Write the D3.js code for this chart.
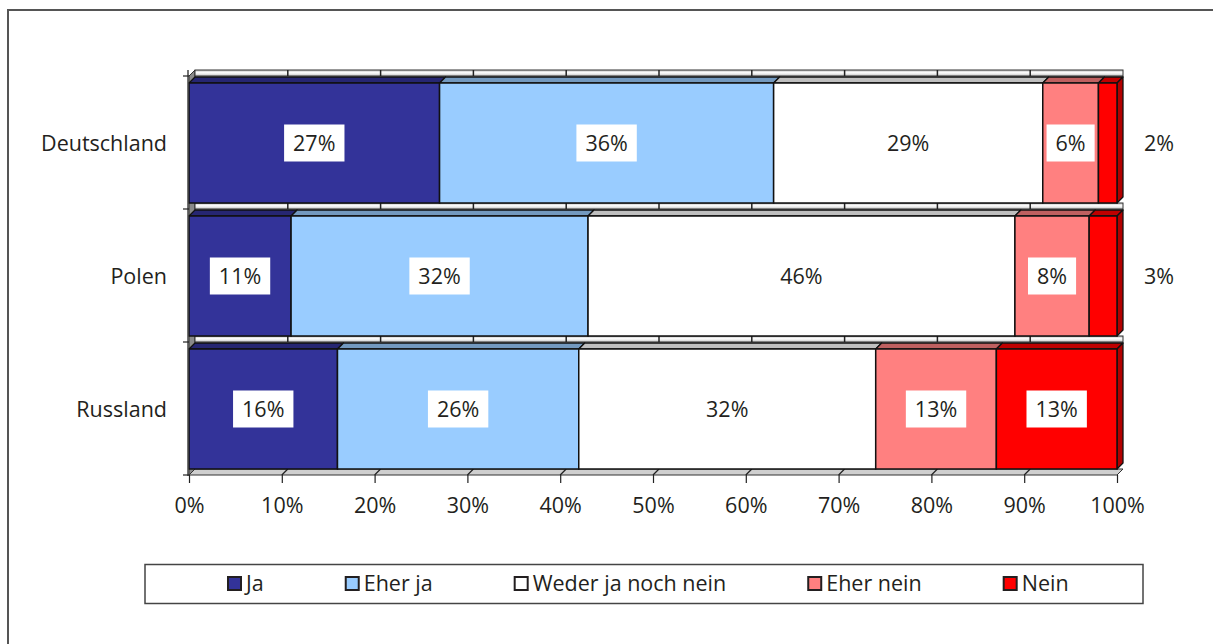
<!DOCTYPE html>
<html>
<head>
<meta charset="utf-8">
<script src="https://cdn.jsdelivr.net/npm/d3@7"></script>
<style>
  html, body { margin: 0; padding: 0; background: #fff; }
  svg { display: block; font-family: "Open Sans", "Noto Sans", sans-serif; }
</style>
</head>
<body>
<svg id="chart" width="1213" height="644"></svg>
<script>
// Survey answers per country, in percent
const categories = ["Deutschland", "Polen", "Russland"];
const seriesNames = ["Ja", "Eher ja", "Weder ja noch nein", "Eher nein", "Nein"];
const ja       = [27, 11, 16];
const eherJa   = [36, 32, 26];
const weder    = [29, 46, 32];
const eherNein = [6, 8, 13];
const nein     = [2, 3, 13];
const tickValues = [0, 10, 20, 30, 40, 50, 60, 70, 80, 90, 100];

const seriesValues = [ja, eherJa, weder, eherNein, nein];
const frontColors = ["#333399", "#99ccff", "#ffffff", "#ff8080", "#ff0000"];
const topColors   = ["#262672", "#7399bf", "#bfbfbf", "#bf6060", "#bf0000"];
const sideColor   = "#b30000";
const ink = "#231f20";
const fontSize = 21.5;

const svg = d3.select("#chart");
const DX = 6, DY = 6;          // oblique depth of the 3D bars

const x = d3.scaleLinear().domain([0, 100]).range([189, 1117]);
const y = d3.scaleBand().domain(categories).range([83, 469]).paddingInner(13 / 133);

// outer frame
svg.append("rect")
  .attr("x", 8).attr("y", 10).attr("width", 1230).attr("height", 660)
  .attr("fill", "none").attr("stroke", "#555").attr("stroke-width", 2);

// stacked segments
const rows = categories.map((c, i) => {
  let acc = 0;
  return seriesValues.map((vals, s) => {
    const seg = { cat: c, s, v: vals[i], x0: acc, x1: acc + vals[i] };
    acc += vals[i];
    return seg;
  });
});

const defs = svg.append("defs");
const grad = defs.append("linearGradient").attr("id", "wallGrad")
  .attr("x1", 0).attr("y1", 0).attr("x2", 0).attr("y2", 1);
grad.append("stop").attr("offset", "0%").attr("stop-color", "#bdbdbd");
grad.append("stop").attr("offset", "45%").attr("stop-color", "#ffffff");
grad.append("stop").attr("offset", "100%").attr("stop-color", "#c4c4c4");

const plot = svg.append("g");

// left wall
const yTopFront = y(categories[0]) - 7;
const yBotFront = y(categories[categories.length - 1]) + y.bandwidth() + 6;
plot.append("polygon")
  .attr("points", [[x(0), yTopFront], [x(0) + DX, yTopFront - DY],
                   [x(0) + DX, yBotFront - DY], [x(0), yBotFront]].join(" "))
  .attr("fill", "#8a8a8a").attr("stroke", "#333").attr("stroke-width", 1);

// back-wall strips visible above each bar, with gridlines
categories.forEach(c => {
  const sTop = y(c) - 13, sBot = y(c) - 7;
  plot.append("rect")
    .attr("x", x(0) + DX).attr("y", sTop)
    .attr("width", x(100) - x(0)).attr("height", sBot - sTop)
    .attr("fill", "url(#wallGrad)").attr("stroke", "#333").attr("stroke-width", 1);
  plot.selectAll(null).data(tickValues.slice(1, -1)).enter().append("line")
    .attr("x1", d => x(d) + DX).attr("x2", d => x(d) + DX)
    .attr("y1", sTop).attr("y2", sBot)
    .attr("stroke", "#222").attr("stroke-width", 1.5);
});

// floor edge below the last bar
const fTop = y(categories[categories.length - 1]) + y.bandwidth();
const fBot = fTop + 6;
plot.append("polygon")
  .attr("points", [[x(0), fBot], [x(100), fBot], [x(100) + DX, fTop], [x(0) + DX, fTop]].join(" "))
  .attr("fill", "#cfcfcf").attr("stroke", "#333").attr("stroke-width", 1);
plot.selectAll(null).data(tickValues.slice(1, -1)).enter().append("line")
  .attr("x1", d => x(d)).attr("x2", d => x(d) + DX)
  .attr("y1", fBot).attr("y2", fTop)
  .attr("stroke", "#222").attr("stroke-width", 1.2);

// bars
rows.forEach(segs => {
  const g = plot.append("g");
  const top = y(segs[0].cat), bot = top + y.bandwidth();
  segs.forEach(d => {
    g.append("polygon")
      .attr("points", [[x(d.x0), top], [x(d.x1), top], [x(d.x1) + DX, top - DY], [x(d.x0) + DX, top - DY]].join(" "))
      .attr("fill", topColors[d.s]).attr("stroke", "#111").attr("stroke-width", 1.3)
      .attr("stroke-linejoin", "round");
  });
  const last = segs[segs.length - 1];
  g.append("polygon")
    .attr("points", [[x(last.x1), top], [x(last.x1) + DX, top - DY], [x(last.x1) + DX, bot - DY], [x(last.x1), bot]].join(" "))
    .attr("fill", sideColor).attr("stroke", "#111").attr("stroke-width", 1.3)
    .attr("stroke-linejoin", "round");
  segs.forEach(d => {
    g.append("rect")
      .attr("x", x(d.x0)).attr("y", top)
      .attr("width", x(d.x1) - x(d.x0)).attr("height", bot - top)
      .attr("fill", frontColors[d.s]).attr("stroke", "#111").attr("stroke-width", 1.5);
  });
});

// value labels
rows.forEach(segs => {
  const cy = y(segs[0].cat) + y.bandwidth() / 2;
  segs.forEach(d => {
    const outside = d.v < 5;
    const cx = outside ? x(100) + 42 : x((d.x0 + d.x1) / 2);
    const g = svg.append("g");
    const t = g.append("text")
      .attr("x", cx).attr("y", cy).attr("dy", "0.36em")
      .attr("text-anchor", "middle")
      .attr("font-size", fontSize).attr("fill", ink)
      .text(d.v + "%");
    if (!outside) {
      const w = t.node().getComputedTextLength() + 18;
      g.insert("rect", "text")
        .attr("x", cx - w / 2).attr("y", cy - 18.5)
        .attr("width", w).attr("height", 37)
        .attr("fill", "#fff");
    }
  });
});

// category axis
svg.append("line")
  .attr("x1", x(0) - 1).attr("x2", x(0) - 1)
  .attr("y1", y(categories[0]) - 13).attr("y2", fBot + 1)
  .attr("stroke", "#444").attr("stroke-width", 1.5);
const catTicks = categories.map(c => y(c) - 7).concat([fBot]);
svg.selectAll(null).data(catTicks).enter().append("line")
  .attr("x1", x(0) - 6).attr("x2", x(0))
  .attr("y1", d => d).attr("y2", d => d)
  .attr("stroke", "#222").attr("stroke-width", 1.2);
svg.selectAll(null).data(categories).enter().append("text")
  .attr("x", 167).attr("y", d => y(d) + y.bandwidth() / 2).attr("dy", "0.36em")
  .attr("text-anchor", "end").attr("font-size", fontSize).attr("fill", ink)
  .text(d => d);

// value axis
const xAxis = d3.axisBottom(x).tickValues(tickValues).tickFormat(d => d + "%")
  .tickSize(8).tickPadding(15);
const ax = svg.append("g").attr("transform", `translate(0,${fBot})`).call(xAxis);
ax.select(".domain").remove();
ax.selectAll(".tick line").attr("stroke", "#222").attr("stroke-width", 1.2);
ax.selectAll(".tick text").attr("font-size", fontSize).attr("fill", ink)
  .attr("font-family", "\"Open Sans\", \"Noto Sans\", sans-serif");

// legend
const lg = svg.append("g");
lg.append("rect").attr("x", 145).attr("y", 564.5).attr("width", 998).attr("height", 39)
  .attr("fill", "#fff").attr("stroke", "#444").attr("stroke-width", 1.5);
const items = lg.append("g").attr("transform", "translate(227,0)");
const legendGap = 81;
let cursor = 0;
seriesNames.forEach((name, s) => {
  const it = items.append("g").attr("transform", `translate(${cursor},0)`);
  it.append("rect").attr("x", 1).attr("y", 577).attr("width", 13).attr("height", 13)
    .attr("fill", frontColors[s]).attr("stroke", "#231f20").attr("stroke-width", 2);
  const t = it.append("text").attr("x", 19).attr("y", 591)
    .attr("font-size", fontSize).attr("fill", ink).text(name);
  cursor += 19 + t.node().getComputedTextLength() + legendGap;
});
</script>
</body>
</html>
